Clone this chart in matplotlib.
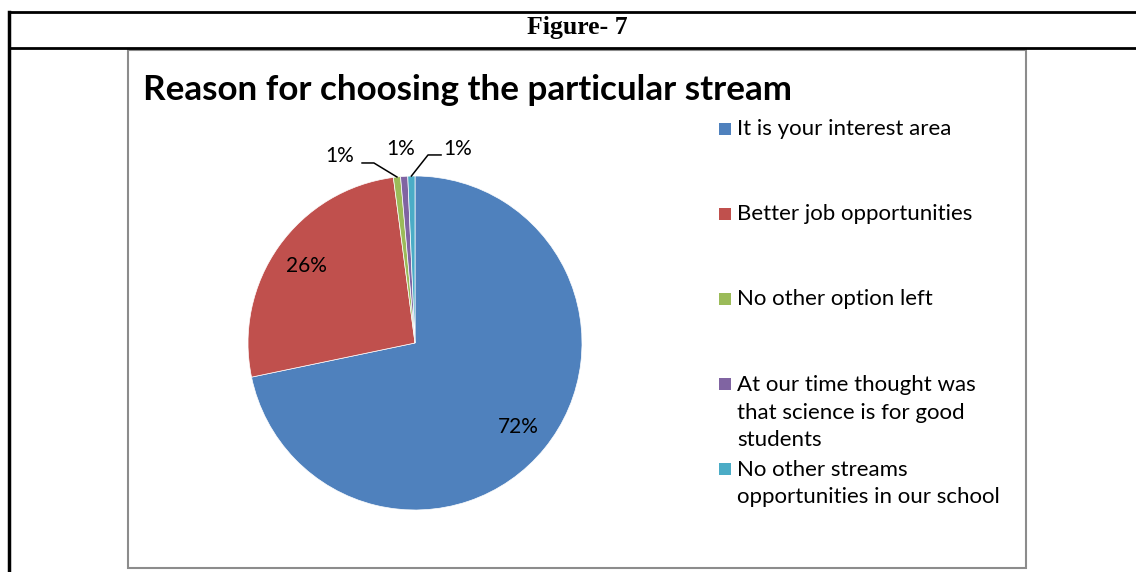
import matplotlib.pyplot as plt
from matplotlib.lines import Line2D
from matplotlib.patches import Rectangle
import numpy as np

header = 'Figure- 7'
title = 'Reason for choosing the particular stream'
categories = ['It is your interest area',
              'Better job opportunities',
              'No other option left',
              'At our time thought was\nthat science is for good\nstudents',
              'No other streams\nopportunities in our school']
counts = [104, 38, 1, 1, 1]
colors = ['#4F81BD', '#C0504D', '#9BBB59', '#8064A2', '#4BACC6']

W, H = 1136, 572
fig = plt.figure(figsize=(W / 100, H / 100), dpi=100)


def fx(px):
    return px / W


def fy(py):
    return 1 - py / H


# table borders around the figure
fig.add_artist(Line2D([fx(9), 1], [fy(12), fy(12)], color='black', lw=2))
fig.add_artist(Line2D([fx(9), 1], [fy(48), fy(48)], color='black', lw=2))
fig.add_artist(Line2D([fx(9), fx(9)], [fy(12), 0], color='black', lw=2.5))
fig.text(fx(577), fy(34), header, ha='center', va='baseline', fontsize=18.5,
         fontweight='bold', family='Liberation Serif')

# chart frame
fig.add_artist(Rectangle((fx(128), fy(568)), fx(1026) - fx(128), fy(50) - fy(568),
                         transform=fig.transFigure, fill=False,
                         edgecolor='#8c8c8c', lw=1.5))

fig.text(fx(143), fy(100), title, ha='left', va='baseline', fontsize=25.2,
         fontweight='bold', family='Lato')

# pie
cx, cy, r = 415, 343, 167
ax = fig.add_axes([fx(cx - r), fy(cy + r), 2 * r / W, 2 * r / H])

wedges, texts, autotexts = ax.pie(counts, colors=colors, startangle=90,
                                  counterclock=False, radius=1,
                                  autopct='%.0f%%', pctdistance=0.8,
                                  wedgeprops=dict(edgecolor='white', linewidth=0.5),
                                  textprops=dict(fontsize=15, family='Lato'))
ax.set_aspect('auto')
ax.set_xlim(-1, 1)
ax.set_ylim(-1, 1)
ax.axis('off')

# small slices: labels moved outside, with leader lines
small_pos = {2: (-0.449, 1.120), 3: (-0.084, 1.159), 4: (0.254, 1.159)}
leaders = {2: [(-0.317, 1.078), (-0.246, 1.078)],
           4: [(0.156, 1.126), (0.078, 1.126)]}
for i, pos in small_pos.items():
    autotexts[i].set_position(pos)
    autotexts[i].set_ha('center')
    autotexts[i].set_va('center')
for i, pts in leaders.items():
    w = wedges[i]
    mid = np.deg2rad((w.theta1 + w.theta2) / 2)
    xs = [p[0] for p in pts] + [np.cos(mid)]
    ys = [p[1] for p in pts] + [np.sin(mid)]
    ax.plot(xs, ys, color='black', lw=1.1, clip_on=False)

# legend
for i, (lab, col) in enumerate(zip(categories, colors)):
    base = 135 + i * 85
    nlines = lab.count('\n')
    fig.add_artist(Rectangle((fx(719), fy(base)), 12 / W, 12 / H,
                             transform=fig.transFigure, facecolor=col,
                             edgecolor='none'))
    fig.text(fx(737), fy(base + nlines * 28), lab, ha='left', va='baseline',
             fontsize=16, family='Lato', linespacing=1.46)

fig.savefig('out.png', dpi=100)
